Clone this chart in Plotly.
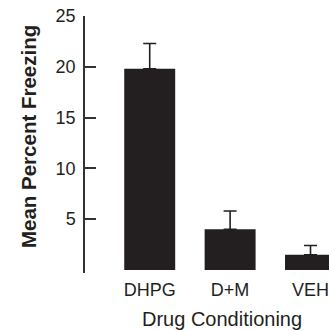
import plotly.graph_objects as go

categories = ["DHPG", "D+M", "VEH"]
means = [19.8, 4.0, 1.5]
errors = [2.5, 1.8, 0.9]
y_ticks = [5, 10, 15, 20, 25]

FONT = "Liberation Sans, Arial, sans-serif"
INK = "#231f20"

fig = go.Figure()
fig.add_trace(go.Bar(
    x=categories, y=means,
    width=0.634,
    marker=dict(color=INK, line=dict(width=0)),
    error_y=dict(type="data", symmetric=False, array=errors,
                 arrayminus=[0] * len(errors),
                 color=INK, thickness=1.6, width=6.5),
))

fig.update_layout(
    width=329, height=331,
    margin=dict(l=85, r=0, t=16, b=58),
    paper_bgcolor="white", plot_bgcolor="white",
    showlegend=False,
    font=dict(family=FONT, color=INK),
    xaxis=dict(
        range=[-0.805, 2.23],
        showline=False, showgrid=False, zeroline=False,
        ticks="", tickfont=dict(size=18, family=FONT, color=INK),
        ticklabelstandoff=4,
    ),
    yaxis=dict(
        range=[-0.3, 25],
        tickvals=y_ticks,
        showline=True, linecolor="#333", linewidth=1.5,
        showgrid=False, zeroline=False,
        ticks="inside", ticklen=11, tickwidth=1.5, tickcolor="#333",
        tickfont=dict(size=18, family=FONT, color=INK),
        ticklabelstandoff=4,
    ),
    annotations=[
        dict(text="<b>Mean Percent Freezing</b>", textangle=-90,
             xref="paper", yref="paper", x=0, y=0.529, xshift=-57,
             xanchor="center", yanchor="middle", showarrow=False,
             font=dict(size=20.5, family=FONT, color=INK)),
        dict(text="Drug Conditioning",
             xref="paper", yref="paper", x=0.561, y=0, yshift=-46,
             xanchor="center", yanchor="middle", showarrow=False,
             font=dict(size=20, family=FONT, color=INK)),
    ],
)

fig.write_html("out.html",
               config={"displayModeBar": False},
               post_script="document.body.style.margin='0px';document.body.style.padding='0px';")
